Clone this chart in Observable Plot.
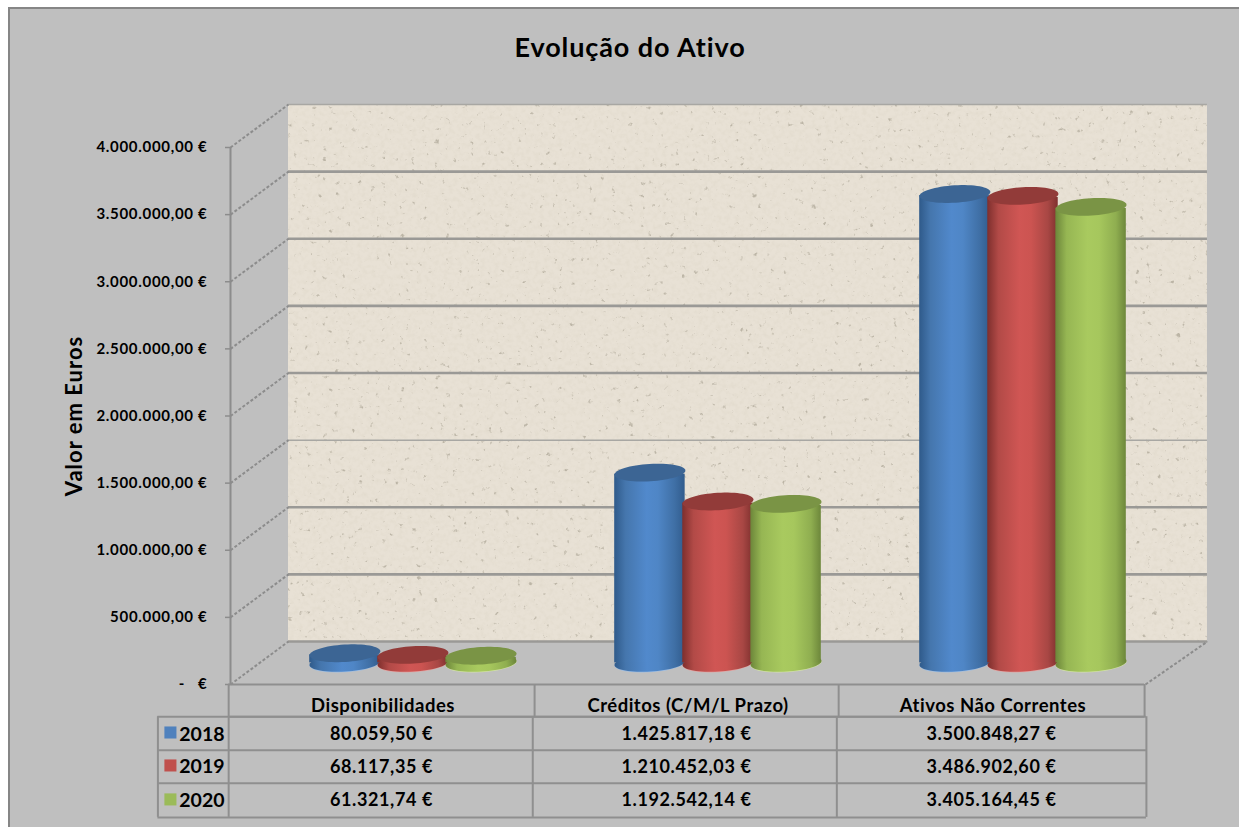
<!DOCTYPE html>
<html lang="pt">
<head>
<meta charset="utf-8">
<title>Evolução do Ativo</title>
<script src="https://cdn.jsdelivr.net/npm/d3@7"></script>
<script src="https://cdn.jsdelivr.net/npm/@observablehq/plot@0.6"></script>
<style>
html,body{margin:0;padding:0;background:#fff;overflow:hidden;width:1239px;height:827px}
#frame{position:absolute;left:8px;top:7px;width:1240px;height:830px;border:2px solid #868686;background:#bfbfbf}
#title{position:absolute;left:0;top:30px;width:1260px;text-align:center;font:700 27px Lato,sans-serif;color:#000;letter-spacing:.9px}
#chart{position:absolute;left:0;top:0}
#chart svg{display:block}
g[aria-label="y-axis tick label"]{letter-spacing:.7px}
</style>
</head>
<body>
<div id="frame"></div>
<div id="title">Evolução do Ativo</div>
<div id="chart"></div>
<script>
const categories = ["Disponibilidades", "Créditos (C/M/L Prazo)", "Ativos Não Correntes"];
const years = ["2018", "2019", "2020"];
const values2018 = [80059.50, 1425817.18, 3500848.27];
const values2019 = [68117.35, 1210452.03, 3486902.60];
const values2020 = [61321.74, 1192542.14, 3405164.45];
const tickValues = [0, 500000, 1000000, 1500000, 2000000, 2500000, 3000000, 3500000, 4000000];
const thinGridlines = [1500000, 4000000];
const seriesFill = {"2018": "#4f81bd", "2019": "#c0504d", "2020": "#9bbb59"};
const seriesCap = {"2018": "#3c6594", "2019": "#923b39", "2020": "#7a9445"};
const seriesRim = {"2018": "#9dbde3", "2019": "#e2a3a1", "2020": "#d3e3a5"};

const euro = (v) => v.toFixed(2).replace(".", ",").replace(/\B(?=(\d{3})+(?!\d))(?=.*,)/g, ".") + " €";
const series = [values2018, values2019, values2020];
const rows = years.flatMap((year, s) => categories.map((category, c) => ({
  year, s, category, c, value: series[s][c],
  center: c + 0.5 + (s - 1) * 0.2232
})));

const rowEdges = [0, -240000, -490000, -735000, -990000];
const headerY = -160000, rowY = [-372000, -615000, -865000], swatchY = [-357500, -603000, -856000];
const headerEdges = [-0.006, 0.997, 1.994, 2.997];
const bodyEdges = [-0.238, -0.006, 0.991, 1.988, 3.003];
const halfBar = 0.1155;

const spaced = (px) => ({render(index, scales, values, dimensions, context, next) {
  const g = next(index, scales, values, dimensions, context);
  g.style.letterSpacing = px + "px";
  return g;
}});

const ellipse = {draw(ctx, size) {
  const rx = Math.sqrt(size / Math.PI), ry = rx * 0.245, t = -3.5 * Math.PI / 180, n = 64;
  for (let i = 0; i <= n; ++i) {
    const a = i / n * 2 * Math.PI;
    const px = rx * Math.cos(a), py = ry * Math.sin(a);
    const qx = px * Math.cos(t) - py * Math.sin(t), qy = px * Math.sin(t) + py * Math.cos(t);
    if (i) ctx.lineTo(qx, qy); else ctx.moveTo(qx, qy);
  }
  ctx.closePath();
}};

const defs = () => {
  const root = d3.create("svg:defs");
  const noise = (id, freq, seed, matrix) => {
    const f = root.append("filter").attr("id", id).attr("x", 0).attr("y", 0).attr("width", 1).attr("height", 1);
    f.append("feTurbulence").attr("type", "fractalNoise").attr("baseFrequency", freq).attr("numOctaves", 3).attr("seed", seed);
    f.append("feColorMatrix").attr("values", matrix);
  };
  noise("grain", "0.22", 7, "0 0 0 0 0.66  0 0 0 0 0.61  0 0 0 0 0.5  0.55 0 0 0 -0.22");
  noise("specks", "0.17", 23, "0 0 0 0 0.5  0 0 0 0 0.46  0 0 0 0 0.38  6 0 0 0 -4.25");
  const pattern = root.append("pattern").attr("id", "paper").attr("patternUnits", "userSpaceOnUse").attr("width", 1000).attr("height", 800);
  pattern.append("rect").attr("width", 1000).attr("height", 800).attr("fill", "#e8e1d5");
  pattern.append("rect").attr("width", 1000).attr("height", 800).attr("filter", "url(#grain)");
  pattern.append("rect").attr("width", 1000).attr("height", 800).attr("filter", "url(#specks)");
  const shades = {
    "2018": ["#2f5a8a", "#4576ad", "#5189cc", "#4f86c6", "#3f6fa5", "#315c8d"],
    "2019": ["#7e2f2d", "#b24a47", "#d05654", "#cc5451", "#a84744", "#7f302e"],
    "2020": ["#6c863a", "#96b653", "#a9ca5f", "#a6c75d", "#8fae50", "#6d873b"]
  };
  for (const y of years) {
    const g = root.append("linearGradient").attr("id", "g" + y);
    shades[y].forEach((c, i) => g.append("stop").attr("offset", [0, 0.16, 0.46, 0.62, 0.86, 1][i]).attr("stop-color", c));
  }
  return root.node();
};

const tableLine = {stroke: "#8f8f8f", strokeWidth: 2};
const marks = [
  defs,
  Plot.rect([0], {x1: () => 0, x2: () => 3.013, y1: () => 0, y2: () => 4000000, dx: 58, dy: -43, fill: "url(#paper)"}),
  Plot.ruleY(tickValues.filter(d => !thinGridlines.includes(d)), {x1: () => 0, x2: () => 3.013, dx: 58, dy: -43, stroke: "#9a9996", strokeWidth: 2.6}),
  Plot.ruleY(thinGridlines, {x1: () => 0, x2: () => 3.013, dx: 58, dy: -43, stroke: "#a8a7a3", strokeWidth: 1.5}),
  Plot.link(tickValues, {x1: () => 0, x2: () => 0.19, y1: d => d, y2: d => d + 320000, stroke: "#8c8c8c", strokeWidth: 2, strokeDasharray: "3 2"}),
  Plot.link([0], {x1: () => 3.0, x2: () => 3.203, y1: () => 0, y2: () => 320000, stroke: "#8c8c8c", strokeWidth: 2, strokeDasharray: "3 2"}),
  Plot.ruleX([0], {y1: () => 0, y2: () => 4000000, stroke: "#8c8c8c", strokeWidth: 2}),
  Plot.axisY(tickValues, {
    anchor: "left", tickSize: 5, tickPadding: 18, stroke: "#8c8c8c", fill: "#000", strokeWidth: 1.5,
    fontSize: 15, fontWeight: 700, label: null,
    tickFormat: d => d === 0 ? "-   €" : euro(d)
  })
];

for (const year of years) {
  const data = rows.filter(d => d.year === year);
  const x = d => d.center;
  marks.push(
    Plot.dot(data, {x, y: () => 0, dx: 30, dy: -21, r: 35.5, symbol: ellipse, fill: seriesRim[year]}),
    Plot.dot(data, {x, y: () => 0, dx: 30, dy: -21.6, r: 35.5, symbol: ellipse, fill: `url(#g${year})`}),
    Plot.rect(data, {x1: d => d.center - halfBar, x2: d => d.center + halfBar, y1: () => 0, y2: d => d.value - 20000, dx: 30, dy: -21.6, fill: `url(#g${year})`}),
    Plot.dot(data, {x, y: "value", dx: 30, dy: -20.5, r: 35.5, symbol: ellipse, fill: seriesCap[year]})
  );
}

marks.push(
  Plot.text(["Valor em Euros"], {x: () => -0.511, y: () => 2000000, rotate: -90, fontSize: 22, fontWeight: 700, fill: "#000", ...spaced(1)}),
  // data table under the chart
  Plot.ruleY([rowEdges[0], rowEdges[1]], {x1: () => headerEdges[0], x2: () => headerEdges[3], ...tableLine}),
  Plot.ruleY(rowEdges.slice(1), {x1: () => bodyEdges[0], x2: () => bodyEdges[4], ...tableLine}),
  Plot.ruleX(headerEdges, {y1: () => rowEdges[0], y2: () => rowEdges[1], ...tableLine}),
  Plot.ruleX(bodyEdges, {y1: () => rowEdges[1], y2: () => rowEdges[4], ...tableLine}),
  Plot.text(categories, {x: (d, i) => i + 0.5, y: () => headerY, text: d => d, fontSize: 18.5, fontWeight: 700, fill: "#000", ...spaced(0.5)}),
  Plot.text(rows, {x: d => d.c + 0.5, y: d => rowY[d.s], dx: -1.5, text: d => euro(d.value), fontSize: 18, fontWeight: 700, fill: "#000", ...spaced(0.6)}),
  Plot.dot(years, {x: () => -0.197, y: (d, i) => swatchY[i], symbol: "square", r: 6.8, fill: d => seriesFill[d]}),
  Plot.text(years, {x: () => -0.168, y: (d, i) => rowY[i], text: d => d, textAnchor: "start", fontSize: 19.5, fontWeight: 700, fill: "#000"})
);

const chart = Plot.plot({
  width: 1239, height: 827,
  marginTop: 147, marginBottom: 8.75, marginLeft: 230, marginRight: 94,
  x: {domain: [0, 3], axis: null},
  y: {domain: [-1000000, 4000000], axis: null},
  color: {type: "identity"},
  style: {background: "transparent", fontFamily: "Lato, sans-serif", color: "#000", overflow: "visible"},
  marks
});
document.getElementById("chart").append(chart);
</script>
</body>
</html>
